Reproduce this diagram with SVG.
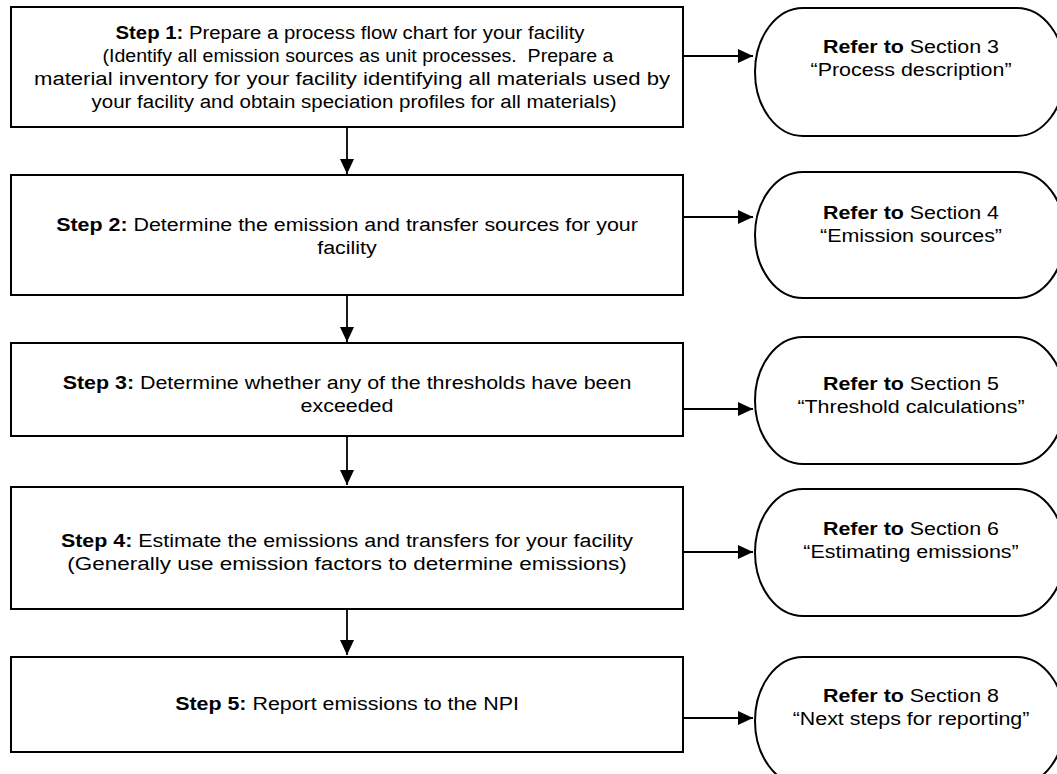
<svg xmlns="http://www.w3.org/2000/svg" width="1057" height="774" viewBox="0 0 1057 774">
  <style>
    .box { fill: #ffffff; stroke: #000000; stroke-width: 2; }
    .term { fill: #ffffff; stroke: #000000; stroke-width: 2; }
    .link { fill: none; stroke: #000000; stroke-width: 1.8; marker-end: url(#head); }
    text { font-family: "Liberation Sans", Arial, sans-serif; font-size: 18px; fill: #000000; text-anchor: middle; }
    .b { font-weight: bold; }
  </style>
  <defs>
    <marker id="head" markerUnits="userSpaceOnUse" markerWidth="16" markerHeight="15" refX="15" refY="7" orient="auto">
      <path d="M0,0 L15,7 L0,14 Z" fill="#000000"/>
    </marker>
  </defs>

  <rect width="1057" height="774" fill="#ffffff"/>

  <!-- connectors -->
  <g id="connectors">
    <path class="link" d="M347,127 V174"/>
    <path class="link" d="M347,295 V342"/>
    <path class="link" d="M347,436 V485"/>
    <path class="link" d="M347,609 V655"/>
    <path class="link" d="M683,56 H753"/>
    <path class="link" d="M683,217 H753"/>
    <path class="link" d="M683,409 H753"/>
    <path class="link" d="M683,552 H753"/>
    <path class="link" d="M683,718 H753"/>
  </g>

  <!-- process steps -->
  <g id="step1">
    <rect class="box" x="11" y="7" width="672" height="120"/>
    <text x="350" y="39" textLength="469" lengthAdjust="spacingAndGlyphs"><tspan class="b">Step 1:</tspan> Prepare a process flow chart for your facility</text>
    <text x="358" y="62" textLength="511" lengthAdjust="spacingAndGlyphs" xml:space="preserve">(Identify all emission sources as unit processes.  Prepare a</text>
    <text x="352" y="85" textLength="636" lengthAdjust="spacingAndGlyphs">material inventory for your facility identifying all materials used by</text>
    <text x="354" y="108" textLength="525" lengthAdjust="spacingAndGlyphs">your facility and obtain speciation profiles for all materials)</text>
  </g>

  <g id="step2">
    <rect class="box" x="11" y="175" width="672" height="120"/>
    <g transform="translate(347,0) scale(1.19,1)">
      <text x="0" y="231"><tspan class="b">Step 2:</tspan> Determine the emission and transfer sources for your</text>
      <text x="0" y="254">facility</text>
    </g>
  </g>

  <g id="step3">
    <rect class="box" x="11" y="343" width="672" height="93"/>
    <g transform="translate(347,0) scale(1.19,1)">
      <text x="0" y="389"><tspan class="b">Step 3:</tspan> Determine whether any of the thresholds have been</text>
      <text x="0" y="412">exceeded</text>
    </g>
  </g>

  <g id="step4">
    <rect class="box" x="11" y="487" width="672" height="122"/>
    <g transform="translate(347,0) scale(1.19,1)">
      <text x="0" y="547"><tspan class="b">Step 4:</tspan> Estimate the emissions and transfers for your facility</text>
      <text x="0" y="570" textLength="470" lengthAdjust="spacingAndGlyphs">(Generally use emission factors to determine emissions)</text>
    </g>
  </g>

  <g id="step5">
    <rect class="box" x="11" y="657" width="672" height="95"/>
    <g transform="translate(347,0) scale(1.19,1)">
      <text x="0" y="710"><tspan class="b">Step 5:</tspan> Report emissions to the NPI</text>
    </g>
  </g>

  <!-- section references (terminator shapes) -->
  <g id="ref3">
    <path class="term" d="M803,8 H1017 A48,64 0 0 1 1017,136 H803 A48,64 0 0 1 803,8 Z"/>
    <g transform="translate(911,0) scale(1.19,1)">
      <text x="0" y="53"><tspan class="b">Refer to</tspan> Section 3</text>
      <text x="0" y="76">“Process description”</text>
    </g>
  </g>

  <g id="ref4">
    <path class="term" d="M803,172 H1017 A48,63 0 0 1 1017,298 H803 A48,63 0 0 1 803,172 Z"/>
    <g transform="translate(911,0) scale(1.19,1)">
      <text x="0" y="219"><tspan class="b">Refer to</tspan> Section 4</text>
      <text x="0" y="242">“Emission sources”</text>
    </g>
  </g>

  <g id="ref5">
    <path class="term" d="M803,337 H1017 A48,63.5 0 0 1 1017,464 H803 A48,63.5 0 0 1 803,337 Z"/>
    <g transform="translate(911,0) scale(1.19,1)">
      <text x="0" y="390"><tspan class="b">Refer to</tspan> Section 5</text>
      <text x="0" y="413">“Threshold calculations”</text>
    </g>
  </g>

  <g id="ref6">
    <path class="term" d="M803,489 H1017 A48,63.5 0 0 1 1017,616 H803 A48,63.5 0 0 1 803,489 Z"/>
    <g transform="translate(911,0) scale(1.19,1)">
      <text x="0" y="535"><tspan class="b">Refer to</tspan> Section 6</text>
      <text x="0" y="558">“Estimating emissions”</text>
    </g>
  </g>

  <g id="ref8">
    <path class="term" d="M803,657 H1017 A48,64 0 0 1 1017,785 H803 A48,64 0 0 1 803,657 Z"/>
    <g transform="translate(911,0) scale(1.19,1)">
      <text x="0" y="702"><tspan class="b">Refer to</tspan> Section 8</text>
      <text x="0" y="725">“Next steps for reporting”</text>
    </g>
  </g>
</svg>
